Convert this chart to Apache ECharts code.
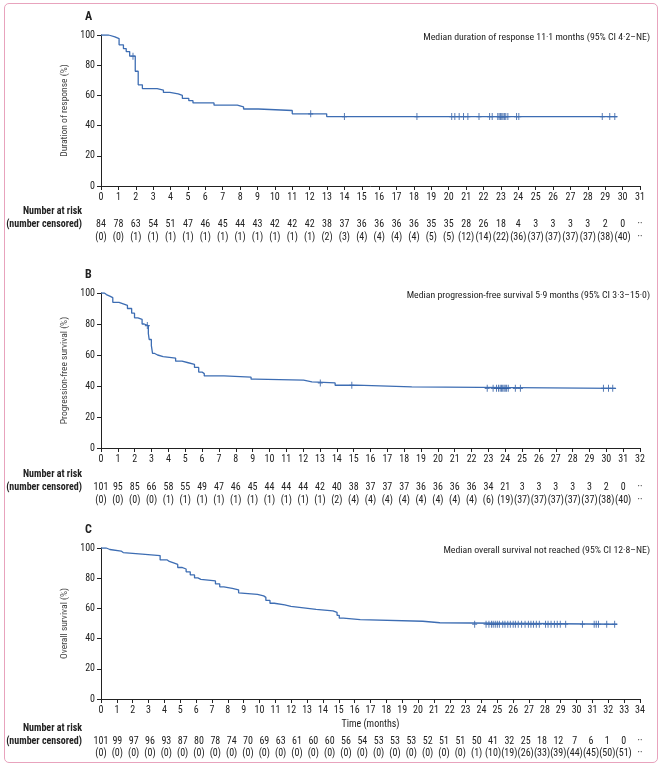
<!DOCTYPE html>
<html><head><meta charset="utf-8">
<script src="https://cdn.jsdelivr.net/npm/echarts@6/dist/echarts.min.js"></script>
<style>
html,body{margin:0;padding:0;background:#fff;}
#frame{position:absolute;left:4px;top:3px;width:652px;height:758px;border:1px solid #e8a3bd;border-radius:5px;}
#chart{position:absolute;left:0;top:0;width:662px;height:765px;}
</style></head><body>
<div id="frame"></div>
<div id="chart"></div>
<script>
// ---------- Panel A: duration of response ----------
const timesA = [0, 0.44, 0.8, 1.04, 1.29, 1.45, 1.65, 1.97, 2.14, 2.38, 3.23, 3.59, 3.96, 4.44, 4.68, 5.05, 5.29, 6.5, 7.84, 8.2, 9.05, 11.0, 12.98, 29.7];
const survA  = [100, 98.8, 97.6, 93.5, 91, 89, 86, 76, 67, 64.5, 63.5, 62, 61, 60, 58, 56.5, 55, 53.5, 52.4, 51, 50, 47.8, 46, 46];
const censorA = [1.84, 12.06, 14.0, 18.17, 20.17, 20.35, 20.6, 20.85, 21.1, 21.74, 22.35, 22.5, 22.82, 22.9, 22.98, 23.05, 23.12, 23.2, 23.28, 23.4, 23.9, 24.03, 28.83, 29.26, 29.55];
const riskA = [84, 78, 63, 54, 51, 47, 46, 45, 44, 43, 42, 42, 42, 38, 37, 36, 36, 36, 36, 35, 35, 28, 26, 18, 4, 3, 3, 3, 3, 2, 0, '··'];
const censA = ['(0)','(0)','(1)','(1)','(1)','(1)','(1)','(1)','(1)','(1)','(1)','(1)','(1)','(2)','(3)','(4)','(4)','(4)','(4)','(5)','(5)','(12)','(14)','(22)','(36)','(37)','(37)','(37)','(37)','(38)','(40)','··'];

// ---------- Panel B: progression-free survival ----------
const timesB = [0, 0.2, 0.32, 0.52, 0.7, 1.07, 1.32, 1.57, 1.82, 1.99, 2.19, 2.44, 2.56, 2.81, 2.86, 2.99, 3.06, 3.19, 3.36, 3.69, 4.43, 4.81, 5.18, 5.55, 5.8, 6.0, 6.13, 7.3, 8.91, 9.16, 12.03, 12.52, 13.9, 15.14, 18.45, 30.58];
const survB  = [100, 99, 98, 97, 94, 93, 92, 90, 87, 84, 83, 80, 79, 74, 70, 66, 61, 60, 59, 58, 56, 55, 54, 52, 49, 48, 46.5, 45.7, 44.4, 43.8, 42.7, 42, 40.5, 39.4, 38.5, 38.5];
const censorB = [2.75, 13.02, 14.89, 22.93, 23.28, 23.48, 23.6, 23.7, 23.78, 23.85, 23.93, 24.0, 24.08, 24.18, 24.6, 24.9, 29.83, 30.13, 30.38];
const riskB = [101, 95, 85, 66, 58, 55, 49, 47, 46, 45, 44, 44, 44, 42, 40, 38, 37, 37, 37, 36, 36, 36, 36, 34, 21, 3, 3, 3, 3, 3, 2, 0, '··'];
const censB = ['(0)','(0)','(0)','(0)','(1)','(1)','(1)','(1)','(1)','(1)','(1)','(1)','(1)','(1)','(2)','(4)','(4)','(4)','(4)','(4)','(4)','(4)','(4)','(6)','(19)','(37)','(37)','(37)','(37)','(37)','(38)','(40)','··'];

// ---------- Panel C: overall survival ----------
const timesC = [0, 0.34, 0.56, 1.27, 1.4, 2.59, 3.73, 4.18, 4.31, 4.58, 4.84, 5.1, 5.37, 5.63, 5.9, 6.11, 6.3, 7.22, 7.49, 7.75, 8.28, 8.68, 8.76, 9.87, 10.26, 10.4, 10.66, 10.93, 11.59, 11.98, 12.78, 13.57, 14.63, 14.89, 15.03, 15.29, 16.35, 20.3, 21.38, 32.57];
const survC  = [100, 99, 98, 97, 96, 95, 92.1, 91.1, 90.1, 89.1, 87.1, 86.1, 84.2, 82.2, 80.2, 79.2, 78.2, 76.2, 74.3, 73.3, 72.3, 70.3, 69.3, 68.3, 67.3, 65.3, 63.4, 62.4, 61.4, 60.4, 59.4, 58.4, 57.4, 55.4, 53.5, 52.5, 51.5, 50.5, 49.5, 49.5];
const censorC = [23.57, 24.29, 24.47, 24.63, 24.74, 24.87, 25.0, 25.13, 25.34, 25.48, 25.66, 25.82, 26.0, 26.14, 26.32, 26.53, 26.75, 26.96, 27.12, 27.28, 27.46, 27.65, 28.04, 28.2, 28.39, 28.6, 28.78, 28.97, 29.31, 30.37, 31.11, 31.24, 31.38, 31.9, 32.4];
const riskC = [101, 99, 97, 96, 93, 87, 80, 78, 74, 70, 69, 63, 61, 60, 60, 56, 54, 53, 53, 53, 52, 51, 51, 50, 41, 32, 25, 18, 12, 7, 6, 1, 0, '··'];
const censC = ['(0)','(0)','(0)','(0)','(0)','(0)','(0)','(0)','(0)','(0)','(0)','(0)','(0)','(0)','(0)','(0)','(0)','(0)','(0)','(0)','(0)','(0)','(0)','(1)','(10)','(19)','(26)','(33)','(39)','(44)','(45)','(50)','(51)','··'];

const FONT = '"Roboto Condensed","Open Sans Condensed","DejaVu Sans Condensed",sans-serif';
const LINE = '#3d6db3';
const TXT = '#222';

function stepValue(times, surv, t) {
  let v = surv[0];
  for (let i = 0; i < times.length; i++) { if (times[i] <= t) v = surv[i]; else break; }
  return v;
}

const panels = [
  {letter:'A', times:timesA, surv:survA, cens:censorA, risk:riskA, censN:censA, xmax:31,
   yName:'Duration of response (%)', median:'Median duration of response 11·1 months (95% CI 4·2–NE)',
   top:35, height:151, xName:'', off1:33, off2:46, narY:20},
  {letter:'B', times:timesB, surv:survB, cens:censorB, risk:riskB, censN:censB, xmax:32,
   yName:'Progression-free survival (%)', median:'Median progression-free survival 5·9 months (95% CI 3·3–15·0)',
   top:293, height:155, xName:'', off1:34, off2:47, narY:21},
  {letter:'C', times:timesC, surv:survC, cens:censorC, risk:riskC, censN:censC, xmax:34,
   yName:'Overall survival (%)', median:'Median overall survival not reached (95% CI 12·8–NE)',
   top:548, height:151, xName:'Time (months)', off1:37, off2:49, narY:24}
];

const grid = [], xAxis = [], yAxis = [], series = [], graphic = [];
const plusPath = 'path://M24,0H36V29H60V41H36V70H24V41H0V29H24Z';

panels.forEach((p, i) => {
  grid.push({left:101, width:539, top:p.top, height:p.height, containLabel:false});
  const tlabel = {fontSize:10, color:TXT, fontFamily:FONT};
  xAxis.push({gridIndex:i, type:'value', min:0, max:p.xmax, interval:1,
    axisLine:{show:true, onZero:false, lineStyle:{color:'#222', width:1}},
    axisTick:{show:true, length:4, lineStyle:{color:'#222'}},
    splitLine:{show:false},
    axisLabel:Object.assign({margin:6}, tlabel),
    name:p.xName, nameLocation:'middle', nameGap:20,
    nameTextStyle:{fontSize:10, color:TXT, fontFamily:FONT}});
  const nItems = p.risk.length - 1;
  xAxis.push({gridIndex:i, type:'value', min:0, max:nItems, interval:1, position:'bottom', offset:p.off1,
    axisLine:{show:false}, axisTick:{show:false}, splitLine:{show:false},
    axisLabel:Object.assign({margin:0, formatter:(v)=> String(p.risk[Math.round(v)])}, tlabel)});
  xAxis.push({gridIndex:i, type:'value', min:0, max:nItems, interval:1, position:'bottom', offset:p.off2,
    axisLine:{show:false}, axisTick:{show:false}, splitLine:{show:false},
    axisLabel:Object.assign({margin:0, formatter:(v)=> String(p.censN[Math.round(v)])}, tlabel)});
  yAxis.push({gridIndex:i, type:'value', min:0, max:100, interval:20,
    axisLine:{show:true, lineStyle:{color:'#222', width:1}},
    axisTick:{show:true, length:4, lineStyle:{color:'#222'}},
    splitLine:{show:false},
    axisLabel:Object.assign({margin:6}, tlabel),
    name:p.yName, nameLocation:'middle', nameGap:25,
    nameTextStyle:{fontSize:9.5, color:'#444', fontFamily:FONT}});
  series.push({type:'line', xAxisIndex:3*i, yAxisIndex:i, step:'end', showSymbol:false,
    lineStyle:{color:LINE, width:1.3}, data:p.times.map((t,k)=>[t, p.surv[k]]), silent:true, animation:false});
  series.push({type:'scatter', xAxisIndex:3*i, yAxisIndex:i, symbol:plusPath, symbolSize:[5,7],
    itemStyle:{color:'#2d5aa0'}, data:p.cens.map(t=>[t, stepValue(p.times, p.surv, t)]), silent:true, animation:false});

  const base = p.top + p.height;
  graphic.push({type:'text', left:85, top:p.top-24, style:{text:p.letter, fontSize:12, fontWeight:'bold', fill:TXT, fontFamily:FONT}});
  graphic.push({type:'text', right:12, top:p.top-2, style:{text:p.median, fontSize:9.8, fill:TXT, fontFamily:FONT}});
  graphic.push({type:'text', right:580, top:base+p.narY, style:{text:'Number at risk', fontSize:10, fontWeight:'bold', fill:TXT, fontFamily:FONT}});
  graphic.push({type:'text', right:580, top:base+p.off1, style:{text:'(number censored)', fontSize:10, fontWeight:'bold', fill:TXT, fontFamily:FONT}});
});

const chart = echarts.init(document.getElementById('chart'), null, {renderer:'canvas'});
chart.setOption({animation:false, backgroundColor:'transparent', grid, xAxis, yAxis, series, graphic});
</script>
</body></html>
